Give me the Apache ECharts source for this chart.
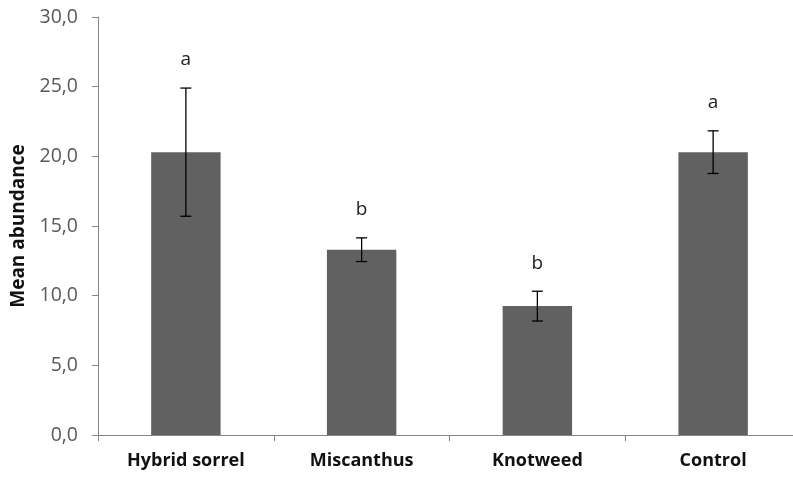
<!DOCTYPE html>
<html>
<head>
<meta charset="utf-8">
<script src="https://cdn.jsdelivr.net/npm/echarts@6/dist/echarts.min.js"></script>
<style>
html,body{margin:0;padding:0;background:#fff;}
#chart{width:793px;height:479px;}
</style>
</head>
<body>
<div id="chart"></div>
<script>
var categories = ['Hybrid sorrel', 'Miscanthus', 'Knotweed', 'Control'];
var means = [20.3, 13.3, 9.25, 20.3];
var errors = [4.6, 0.85, 1.07, 1.53];
var letters = ['a', 'b', 'b', 'a'];
var yTicks = [0, 5, 10, 15, 20, 25, 30];

var FONT = '"Open Sans", "Liberation Sans", sans-serif';

var errData = categories.map(function (c, i) {
  return [i, means[i] - errors[i], means[i] + errors[i], letters[i]];
});

var chart = echarts.init(document.getElementById('chart'), null, {renderer: 'canvas'});
chart.setOption({
  animation: false,
  backgroundColor: '#ffffff',
  grid: {left: 98, right: -8, top: 17, bottom: 44, containLabel: false, outerBoundsMode: 'none'},
  xAxis: {
    type: 'category',
    data: categories,
    boundaryGap: true,
    axisLine: {show: true, lineStyle: {color: '#868686', width: 1}},
    axisTick: {show: true, alignWithLabel: false, length: 6, lineStyle: {color: '#868686'}},
    axisLabel: {show: true, interval: 0, margin: 17, color: '#111', fontFamily: FONT, fontWeight: 'bold', fontSize: 18},
    splitLine: {show: false}
  },
  yAxis: {
    type: 'value',
    min: yTicks[0],
    max: yTicks[yTicks.length - 1],
    interval: 5,
    name: 'Mean abundance',
    nameLocation: 'middle',
    nameGap: 70,
    nameRotate: 90,
    nameTextStyle: {color: '#111', fontFamily: FONT, fontWeight: 'bold', fontSize: 19},
    axisLine: {show: true, lineStyle: {color: '#868686', width: 1}},
    axisTick: {show: true, length: 6, lineStyle: {color: '#868686'}},
    axisLabel: {
      margin: 20, color: '#595959', fontFamily: FONT, fontSize: 19.5,
      formatter: function (v) { return v.toFixed(1).replace('.', ','); }
    },
    splitLine: {show: false}
  },
  series: [
    {
      type: 'bar',
      data: means,
      barWidth: '39.5%',
      itemStyle: {color: '#616161'},
      z: 2
    },
    {
      type: 'custom',
      data: errData,
      z: 5,
      renderItem: function (params, api) {
        var x = api.coord([api.value(0), 0])[0];
        var lo = api.coord([api.value(0), api.value(1)])[1];
        var hi = api.coord([api.value(0), api.value(2)])[1];
        var half = 5.5;
        var style = {stroke: '#000', lineWidth: 1.3};
        return {
          type: 'group',
          children: [
            {type: 'line', shape: {x1: x, y1: hi, x2: x, y2: lo}, style: style},
            {type: 'line', shape: {x1: x - half, y1: hi, x2: x + half, y2: hi}, style: style},
            {type: 'line', shape: {x1: x - half, y1: lo, x2: x + half, y2: lo}, style: style},
            {type: 'text', x: x, y: hi - 28, style: {
              text: api.value(3), fill: '#222', font: '19px ' + FONT,
              align: 'center', verticalAlign: 'middle'
            }}
          ]
        };
      }
    }
  ]
});
</script>
</body>
</html>
